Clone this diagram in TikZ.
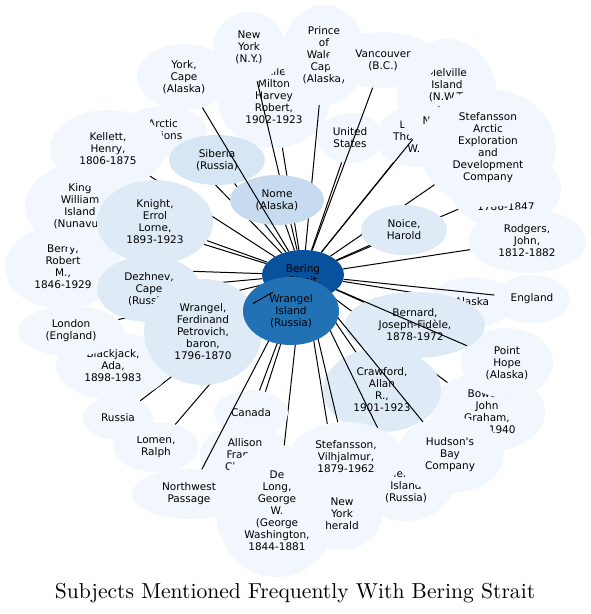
\documentclass[tikz,border=0pt]{standalone}
\usepackage{fontspec}
\newfontfamily\subjfont{DejaVu Sans}
\newfontfamily\titlefont{lmroman10-regular.otf}
\usepackage{tikz}
\usetikzlibrary{shapes.geometric}
\usepackage{xcolor}
\definecolor{subjpale}{HTML}{F2F7FD}
\definecolor{subjsoft}{HTML}{DEEBF7}
\definecolor{subjsib}{HTML}{D6E6F4}
\definecolor{subjsky}{HTML}{C6DBEF}
\definecolor{subjmid}{HTML}{2171B5}
\definecolor{subjdeep}{HTML}{08519C}

\begin{document}
\begin{tikzpicture}[x=1pt, y=-1pt,
    subj/.style={ellipse, inner sep=0pt, align=center,
                 font=\subjfont\fontsize{10.5}{12}\selectfont},
    sz/.style 2 args={minimum width=#1pt, minimum height=#2pt},
    pale/.style={subj, fill=subjpale},
    soft/.style={subj, fill=subjsoft},
    link/.style={line width=1pt}]
  \useasboundingbox (0,0) rectangle (591,614);

  % hub
  \node[subj, fill=subjdeep, sz={82}{50}] (bering) at (303,275) {Bering\\Strait};

  % outer ring, each with its link
  \node[pale, sz={114}{104}] (galle) at (274,96) {Galle,\\Milton\\Harvey\\Robert,\\1902-1923};
  \draw[link] (bering) -- (galle);
  \node[pale, sz={84}{100}] (pow) at (324,55) {Prince\\of\\Wales,\\Cape\\(Alaska)};
  \draw[link] (bering) -- (pow);
  \node[pale, sz={72}{70}] (newyork) at (249,47) {New\\York\\(N.Y.)};
  \draw[link] (bering) -- (newyork);
  \node[pale, sz={66}{50}] (usa) at (350,138) {United\\States};
  \draw[link] (bering) -- (usa);
  \node[pale, sz={76}{60}] (lopp) at (414,137) {Lopp,\\Thomas\\W.};
  \draw[link] (bering) -- (lopp);
  \node[pale, sz={100}{116}] (melville) at (447,97) {Melville\\Island\\(N.W.T.\\and\\Nunavut)};
  \draw[link] (bering) -- (melville);
  \node[pale, sz={110}{56}] (vancouver) at (383,60) {Vancouver\\(B.C.)};
  \draw[link] (bering) -- (vancouver);
  \node[pale, sz={110}{80}] (franklin) at (506,189) {Franklin,\\John,\\Sir,\\1786-1847};
  \draw[link] (bering) -- (franklin);
  \node[pale, sz={136}{118}] (stefarctic) at (488,148) {Stefansson\\Arctic\\Exploration\\and\\Development\\Company};
  \draw[link] (bering) -- (stefarctic);
  \node[pale, sz={118}{64}] (rodgers) at (527,241) {Rodgers,\\John,\\1812-1882};
  \draw[link] (bering) -- (rodgers);
  \node[pale, sz={84}{50}] (alaska) at (472,302) {Alaska};
  \draw[link] (bering) -- (alaska);
  \node[pale, sz={76}{48}] (england) at (532,299) {England};
  \draw[link] (bering) -- (england);
  \node[pale, sz={116}{80}] (bowen) at (487,412) {Bowen,\\John\\Graham,\\1869-1940};
  \draw[link] (bering) -- (bowen);
  \node[pale, sz={92}{70}] (pointhope) at (507,363) {Point\\Hope\\(Alaska)};
  \node[pale, sz={92}{70}] (herald) at (406,486) {Herald\\Island\\(Russia)};
  \node[pale, sz={108}{76}] (hudson) at (450,455) {Hudson's\\Bay\\Company};
  \node[pale, sz={90}{62}] (allison) at (245,455) {Allison\\Francis\\Charles};
  \draw[link] (bering) -- (allison);
  \node[pale, sz={122}{132}] (delong) at (277,511) {De\\Long,\\George\\W.\\(George\\Washington,\\1844-1881};
  \draw[link] (bering) -- (delong);
  \node[pale, sz={80}{72}] (nyherald) at (342,514) {New\\York\\herald};
  \draw[link] (bering) -- (nyherald);
  \node[pale, sz={74}{46}] (canada) at (251,413) {Canada};
  \draw[link] (bering) -- (canada);
  \node[pale, sz={114}{50}] (nwpassage) at (189,494) {Northwest\\Passage};
  \draw[link] (bering) -- (nwpassage);
  \node[pale, sz={86}{50}] (lomen) at (156,447) {Lomen,\\Ralph};
  \draw[link] (bering) -- (lomen);
  \node[pale, sz={70}{44}] (russia) at (118,418) {Russia};
  \draw[link] (bering) -- (russia);
  \node[pale, sz={114}{68}] (blackjack) at (113,366) {Blackjack,\\Ada,\\1898-1983};
  \draw[link] (bering) -- (blackjack);
  \node[pale, sz={106}{50}] (london) at (71,331) {London\\(England)};
  \draw[link] (bering) -- (london);
  \node[pale, sz={116}{84}] (berry) at (63,267) {Berry,\\Robert\\M.,\\1846-1929};
  \draw[link] (bering) -- (berry);
  \node[pale, sz={110}{84}] (kingwilliam) at (80,206) {King\\William\\Island\\(Nunavut)};
  \draw[link] (bering) -- (kingwilliam);
  \node[pale, sz={88}{50}] (arctic) at (163,131) {Arctic\\regions};
  \draw[link] (bering) -- (arctic);
  \node[pale, sz={116}{78}] (kellett) at (108,149) {Kellett,\\Henry,\\1806-1875};
  \draw[link] (bering) -- (kellett);

  % inner ring
  \node[soft, sz={86}{50}] (noice) at (404,230) {Noice,\\Harold};
  \draw[link] (bering) -- (noice);
  \node[soft, sz={140}{66}] (bernard) at (415,325) {Bernard,\\Joseph-Fidèle,\\1878-1972};
  \draw[link] (bering) -- (bernard);
  \node[soft, sz={118}{84}] (crawford) at (382,390) {Crawford,\\Allan\\R.,\\1901-1923};
  \draw[link] (bering) -- (crawford);
  \draw[link] (bering) -- (herald);
  \node[pale, sz={114}{70}] (stefvil) at (346,457) {Stefansson,\\Vilhjalmur,\\1879-1962};
  \draw[link] (bering) -- (stefvil);
  \draw[link] (bering) -- (hudson);
  \draw[link] (bering) -- (pointhope);
  \node[soft, sz={116}{84}] (knight) at (155,222) {Knight,\\Errol\\Lorne,\\1893-1923};
  \draw[link] (bering) -- (knight);
  \node[soft, sz={104}{66}] (dezhnev) at (149,289) {Dezhnev,\\Cape\\(Russia)};
  \draw[link] (bering) -- (dezhnev);
  \node[soft, sz={118}{106}] (wrangelf) at (203,332) {Wrangel,\\Ferdinand\\Petrovich,\\baron,\\1796-1870};
  \node[subj, fill=subjsib, sz={96}{50}] (siberia) at (217,160) {Siberia\\(Russia)};
  \draw[link] (bering) -- (siberia);
  \node[subj, fill=subjsky, sz={94}{50}] (nome) at (277,200) {Nome\\(Alaska)};
  \draw[link] (bering) -- (nome);
  \node[pale, sz={94}{66}] (york) at (184,77) {York,\\Cape\\(Alaska)};
  \draw[link] (bering) -- (york);

  \node[subj, fill=subjmid, sz={96}{68}] (wrangelisl) at (291,311) {Wrangel\\Island\\(Russia)};
  \draw[link] (bering) -- (wrangelf);

  \node[anchor=base, font=\titlefont\fontsize{21.6}{26}\selectfont] (title) at (295,598)
    {Subjects Mentioned Frequently With Bering Strait};
\end{tikzpicture}
\end{document}
